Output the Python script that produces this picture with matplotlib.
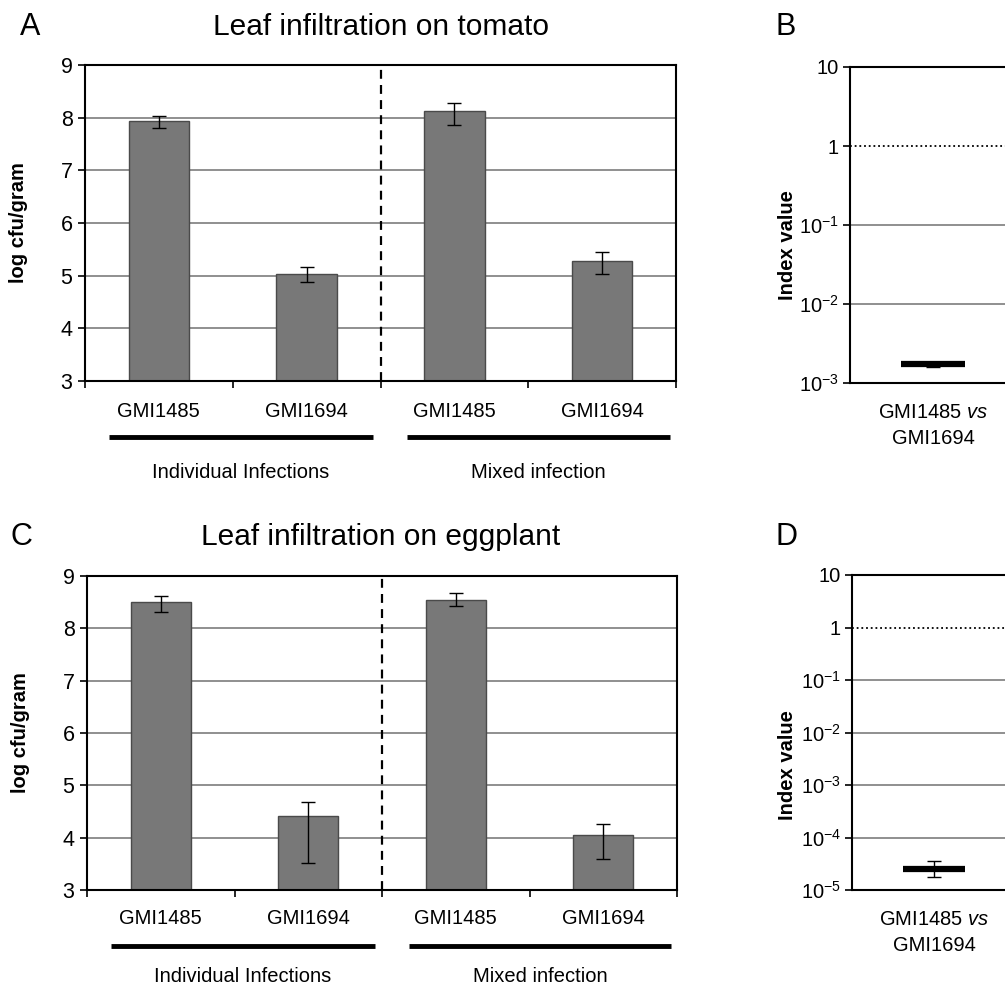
#!/usr/bin/env python3
"""
Leaf infiltration bar charts (tomato / eggplant) with competitive index panels
"""
import matplotlib
matplotlib.use("Agg")
import matplotlib.pyplot as plt
import matplotlib.transforms as mtransforms
from matplotlib.ticker import NullLocator

plt.rcParams["font.family"] = ["Liberation Sans", "DejaVu Sans"]
plt.rcParams["mathtext.fontset"] = "custom"
plt.rcParams["mathtext.rm"] = "Liberation Sans"
plt.rcParams["mathtext.it"] = "Liberation Sans:italic"
plt.rcParams["mathtext.default"] = "regular"

# ---- data ----
strains = ["GMI1485", "GMI1694", "GMI1485", "GMI1694"]
groups = ["Individual Infections", "Mixed infection"]

tomato_mean = [7.93, 5.04, 8.13, 5.27]
tomato_err_low = [0.13, 0.16, 0.26, 0.24]
tomato_err_high = [0.10, 0.13, 0.14, 0.17]

eggplant_mean = [8.50, 4.42, 8.55, 4.06]
eggplant_err_low = [0.19, 0.90, 0.13, 0.46]
eggplant_err_high = [0.12, 0.27, 0.13, 0.20]

ci_label = "GMI1485 $\\it{vs}$\nGMI1694"
tomato_ci = 1.74e-3
tomato_ci_low = 1.60e-3
tomato_ci_high = 1.86e-3
eggplant_ci = 2.55e-5
eggplant_ci_low = 1.75e-5
eggplant_ci_high = 3.5e-5

log_ticks = [1e-5, 1e-4, 1e-3, 1e-2, 1e-1, 1, 10]
log_tick_labels = ["10$^{-5}$", "10$^{-4}$", "10$^{-3}$", "10$^{-2}$",
                   "10$^{-1}$", "1", "10"]

W, H = 1005, 989
BAR_COLOR = "#787878"
GRID_COLOR = "#8f8f8f"


def px_box(left, top, right, bottom):
    """Axes rect from pixel edges"""
    return [left / W, 1 - bottom / H, (right - left) / W, (bottom - top) / H]


def bar_panel(ax, means, err_low, err_high, tick_y, line_y, group_y):
    x = list(range(len(means)))
    ax.set_axisbelow(True)
    for v in range(4, 9):
        ax.axhline(v, color=GRID_COLOR, lw=1.4, zorder=0)
    ax.bar(x, means, width=0.41, color=BAR_COLOR, edgecolor="#4a4a4a",
           linewidth=1.0, zorder=2)
    ax.errorbar(x, means, yerr=[err_low, err_high], fmt="none",
                ecolor="black", elinewidth=1.0, capsize=5, capthick=1.0,
                zorder=3)
    ax.axvline(1.5, color="black", lw=1.6, ls=(0, (4, 2.8)), zorder=3)

    ax.set_xlim(-0.5, 3.5)
    ax.set_ylim(3, 9)
    ax.set_yticks(range(3, 10))
    ax.tick_params(axis="y", direction="out", length=5, width=1.2,
                   labelsize=15.5, pad=4)
    ax.set_xticks([-0.5, 0.5, 1.5, 2.5, 3.5])
    ax.set_xticklabels([])
    ax.tick_params(axis="x", which="major", direction="out", length=5,
                   width=1.2)
    ax.set_xticks(x, minor=True)
    ax.set_xticklabels([])
    ax.tick_params(axis="x", which="minor", length=0)
    for sp in ax.spines.values():
        sp.set_linewidth(1.5)

    trans = mtransforms.blended_transform_factory(ax.transData, ax.transAxes)
    for xi, name in zip(x, strains):
        ax.text(xi, tick_y, name, transform=trans, ha="center", va="center",
                fontsize=14.5)
    spans = [(-0.34, 1.45), (1.68, 3.46)]
    for (x0, x1), name in zip(spans, groups):
        ax.plot([x0, x1], [line_y, line_y], color="black", lw=3.5,
                transform=trans, clip_on=False, solid_capstyle="butt")
        ax.text((x0 + x1) / 2, group_y, name, transform=trans, ha="center",
                va="center", fontsize=14.5)
    ax.set_ylabel("log cfu/gram", fontsize=14.5, fontweight="bold")
    ax.yaxis.set_label_coords(-0.097, 0.5)


def index_panel(ax, value, low, high, ymin, grids):
    ax.set_yscale("log")
    ax.set_ylim(ymin, 10)
    ax.set_xlim(-0.5, 0.5)
    for g in grids:
        ax.axhline(g, color=GRID_COLOR, lw=1.4, zorder=0)
    ax.axhline(1, color="black", lw=1.3, ls=(0, (1, 1.6)), zorder=1)
    ax.hlines(value, -0.19, 0.19, color="black", lw=4.5, zorder=3)
    ax.errorbar([0], [value], yerr=[[value - low], [high - value]],
                fmt="none", ecolor="black", elinewidth=1.0, capsize=5,
                capthick=1.0, zorder=4)
    ticks = [t for t in log_ticks if t >= ymin]
    labels = [lab for t, lab in zip(log_ticks, log_tick_labels) if t >= ymin]
    ax.set_yticks(ticks)
    ax.set_yticklabels(labels)
    ax.yaxis.set_minor_locator(NullLocator())
    ax.tick_params(axis="y", direction="out", length=5, width=1.2,
                   labelsize=14.5, pad=3)
    ax.set_xticks([])
    for sp in ax.spines.values():
        sp.set_linewidth(1.5)
    trans = mtransforms.blended_transform_factory(ax.transData,
                                                  ax.transAxes)
    ax.text(0, -0.135, ci_label, transform=trans, ha="center", va="center",
            fontsize=14.5, linespacing=1.45)


fig = plt.figure(figsize=(W / 100, H / 100), dpi=100)

ax_a = fig.add_axes(px_box(85, 65, 676, 381))
bar_panel(ax_a, tomato_mean, tomato_err_low, tomato_err_high,
          -0.098, -0.177, -0.288)
ax_c = fig.add_axes(px_box(87, 576, 677, 890))
bar_panel(ax_c, eggplant_mean, eggplant_err_low, eggplant_err_high,
          -0.09, -0.178, -0.277)

ax_b = fig.add_axes(px_box(850, 67, 1016, 383))
index_panel(ax_b, tomato_ci, tomato_ci_low, tomato_ci_high, 1e-3,
            [1e-1, 1e-2])
ax_d = fig.add_axes(px_box(852, 575, 1016, 890))
index_panel(ax_d, eggplant_ci, eggplant_ci_low, eggplant_ci_high, 1e-5,
            [1e-1, 1e-2, 1e-3, 1e-4])
for ax, yc in [(ax_b, 245), (ax_d, 765)]:
    fig.text(787 / W, 1 - yc / H, "Index value", rotation=90, ha="center",
             va="center", fontsize=14.5, fontweight="bold")

# titles and panel letters
fig.text(381 / W, 1 - 27 / H, "Leaf infiltration on tomato", ha="center",
         va="center", fontsize=21.5)
fig.text(381 / W, 1 - 537 / H, "Leaf infiltration on eggplant", ha="center",
         va="center", fontsize=21.5)
for letter, xp, yp in [("A", 20, 27), ("B", 775, 27), ("C", 10, 537),
                       ("D", 775, 537)]:
    fig.text(xp / W, 1 - yp / H, letter, ha="left", va="center", fontsize=22)

fig.savefig("out.png", dpi=100)
